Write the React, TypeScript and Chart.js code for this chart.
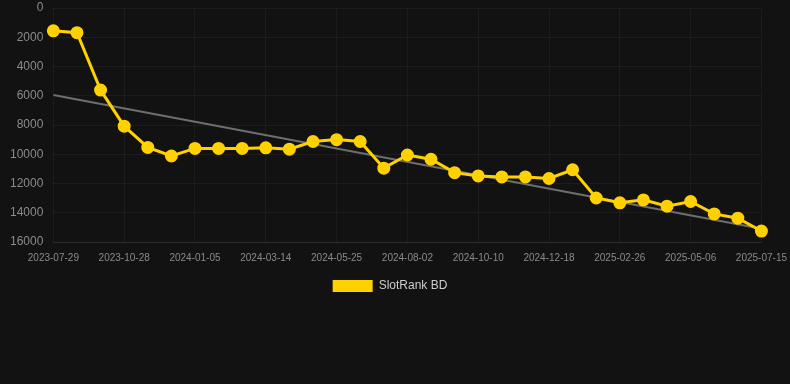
import React, { useEffect, useRef } from "react";
import { Chart, registerables } from "chart.js";

Chart.register(...registerables);

const dates: string[] = [
  "2023-07-29", "2023-08-28", "2023-09-27", "2023-10-28", "2023-11-20", "2023-12-13",
  "2024-01-05", "2024-01-28", "2024-02-20", "2024-03-14", "2024-04-06", "2024-05-02",
  "2024-05-25", "2024-06-17", "2024-07-10", "2024-08-02", "2024-08-25", "2024-09-17",
  "2024-10-10", "2024-11-02", "2024-11-25", "2024-12-18", "2025-01-10", "2025-02-03",
  "2025-02-26", "2025-03-21", "2025-04-13", "2025-05-06", "2025-05-29", "2025-06-21",
  "2025-07-15",
];

const rankValues: number[] = [
  1560, 1690, 5610, 8080, 9530, 10120, 9600, 9600, 9600, 9560, 9650, 9130,
  9000, 9130, 10950, 10050, 10340, 11260, 11480, 11550, 11550, 11660, 11060, 12990,
  13320, 13120, 13550, 13230, 14080, 14370, 15250,
];

const trendStart = 5950;
const trendEnd = 15100;

const yTicks: number[] = [0, 2000, 4000, 6000, 8000, 10000, 12000, 14000, 16000];

export default function App() {
  const ref = useRef<HTMLCanvasElement | null>(null);

  useEffect(() => {
    document.body.style.margin = "0";
    document.body.style.background = "#121212";
    const trend = dates.map((_, i) => (i === 0 ? trendStart : i === dates.length - 1 ? trendEnd : null));
    const chart = new Chart(ref.current!, {
      type: "line",
      data: {
        labels: dates,
        datasets: [
          {
            label: "SlotRank BD",
            data: rankValues,
            borderColor: "#ffd100",
            backgroundColor: "#ffd100",
            borderWidth: 3,
            pointRadius: 5,
            pointHoverRadius: 5,
            pointBackgroundColor: "#ffd100",
            pointBorderColor: "#ffd100",
            tension: 0,
          },
          {
            label: "trend",
            data: trend,
            borderColor: "#6e6e6e",
            backgroundColor: "#6e6e6e",
            borderWidth: 2,
            pointRadius: 0,
            spanGaps: true,
          },
        ],
      },
      options: {
        animation: false,
        responsive: false,
        maintainAspectRatio: false,
        layout: { padding: { left: 10, right: 20, top: 0, bottom: 0 } },
        plugins: {
          legend: {
            position: "bottom",
            labels: {
              color: "#cccccc",
              font: { size: 12 },
              boxWidth: 40,
              boxHeight: 12,
              padding: 13,
              filter: (item) => item.text !== "trend",
              generateLabels: (c) =>
                Chart.defaults.plugins.legend.labels
                  .generateLabels(c)
                  .map((it) => ({ ...it, lineWidth: 0 })),
            },
          },
          tooltip: { enabled: false },
        },
        scales: {
          x: {
            grid: {
              color: (ctx) => (ctx.index % 3 === 0 ? "rgba(255,255,255,0.045)" : "rgba(0,0,0,0)"),
              drawTicks: true,
              tickLength: 7,
              tickColor: "rgba(0,0,0,0)",
            },
            border: { color: "rgba(255,255,255,0.08)" },
            ticks: {
              color: "#8a8a8a",
              font: { size: 10 },
              autoSkip: false,
              maxRotation: 0,
              padding: 3,
              callback: (_v, i) => (i % 3 === 0 ? dates[i] : ""),
            },
          },
          y: {
            reverse: true,
            min: 0,
            max: 16000,
            afterBuildTicks: (axis) => {
              axis.ticks = yTicks.map((v) => ({ value: v }));
            },
            grid: {
              color: "rgba(255,255,255,0.045)",
              drawTicks: true,
              tickLength: 10,
              tickColor: "rgba(0,0,0,0)",
            },
            border: { display: false },
            ticks: {
              color: "#8a8a8a",
              font: { size: 12 },
              padding: 0,
              callback: (v) => String(v),
            },
          },
        },
      },
    });
    return () => chart.destroy();
  }, []);

  return (
    <div style={{ width: 790, height: 384, background: "#121212" }}>
      <canvas ref={ref} width={790} height={302} style={{ display: "block" }} />
    </div>
  );
}
